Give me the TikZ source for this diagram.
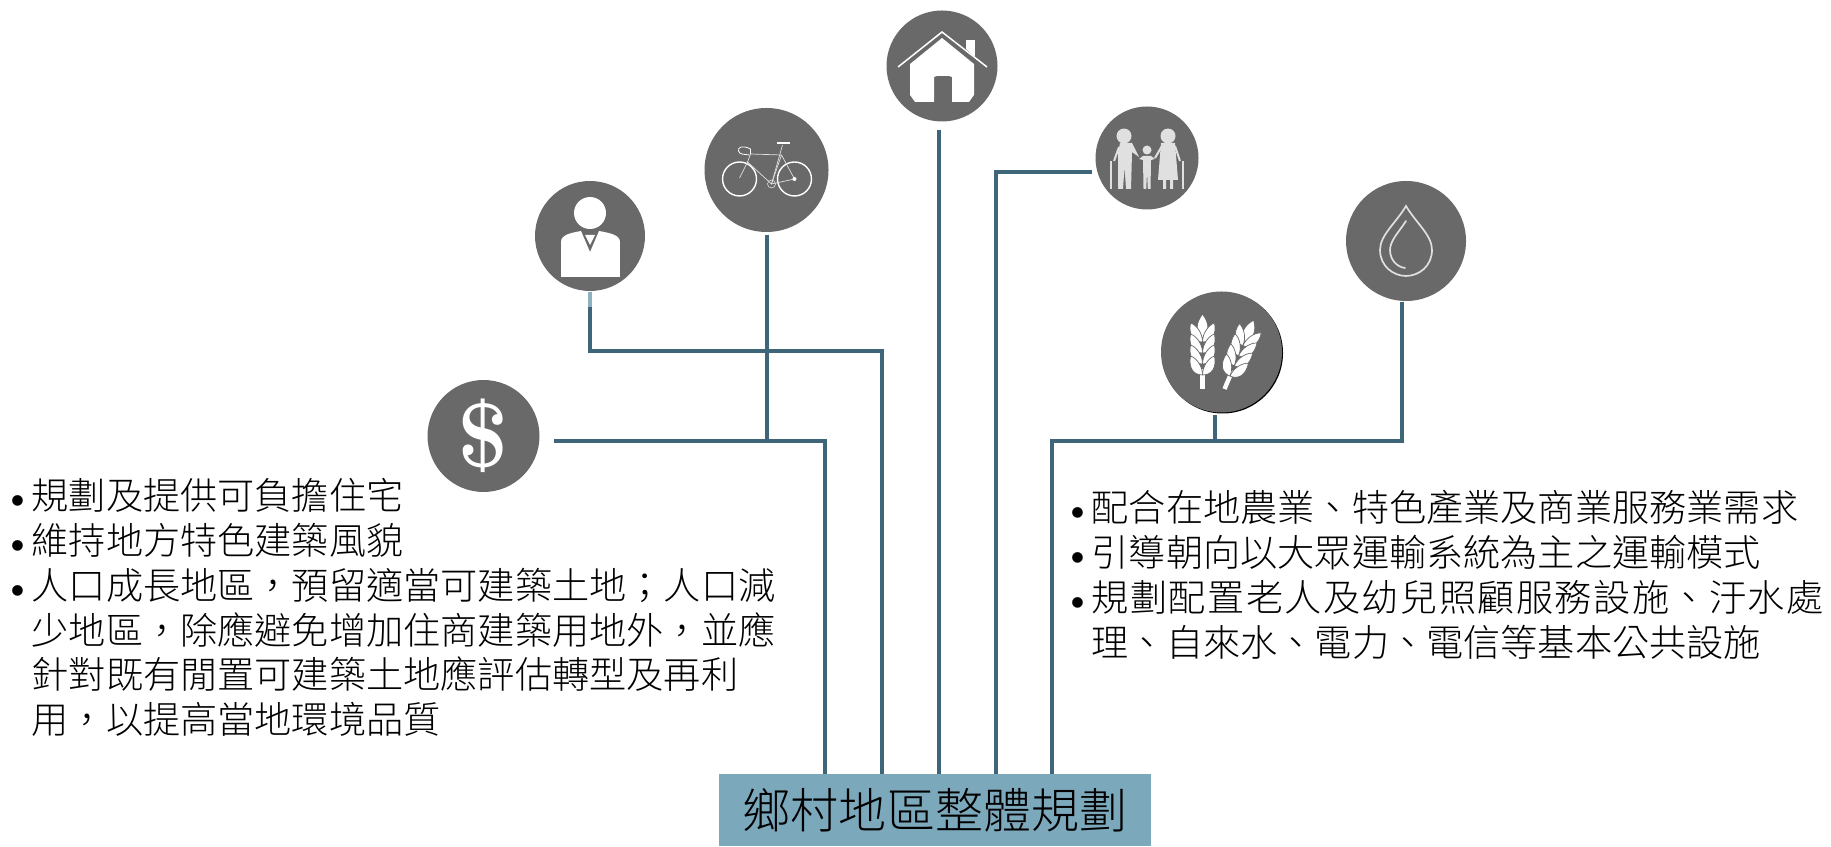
\documentclass[tikz,border=0pt]{standalone}
\usepackage{fontspec}
\usepackage{tikz}
\usetikzlibrary{calc}
\newfontfamily\cjk{Noto Sans CJK TC Light}
\newfontfamily\cjkwide[LetterSpace=3.8]{Noto Sans CJK TC Light}
\definecolor{linkblue}{RGB}{62,101,120}
\definecolor{linkpale}{RGB}{143,176,190}
\definecolor{hubblue}{RGB}{124,168,188}
\definecolor{badgegray}{RGB}{105,105,105}
\definecolor{iconpale}{RGB}{224,224,224}
\newcommand{\blt}{\llap{{\normalfont\textbullet}\hspace{-0.1pt}}}

\begin{document}
\begin{tikzpicture}[
    badge/.style={circle, fill=badgegray, inner sep=0pt},
    hub/.style={rectangle, fill=hubblue, minimum width=4.32cm, minimum height=0.72cm, inner sep=0pt, font=\cjk\fontsize{13.66}{16}\selectfont},
    list/.style={anchor=west, align=left, inner sep=0pt, font=\cjk\fontsize{10.58}{12.76}\selectfont},
    link/.style={line width=0.04cm, linkblue},
    icon/.style={x=0.01cm, y=-0.01cm},
    wheatear/.pic={
        \fill[white] (-2.2,0) rectangle (2.2,-20);
        \fill[white] (0,-52) .. controls (-7,-58) and (-6,-66) .. (0,-74) .. controls (6,-66) and (7,-58) .. (0,-52);
        \foreach \k in {47,36,25,14} {
            \filldraw[white, draw=badgegray, line width=0.007cm] (0,-\k) .. controls (-10,-\k) and (-14,-\k-8) .. (-12,-\k-19) .. controls (-6,-\k-17) and (0,-\k-9) .. (0,-\k);
            \filldraw[white, draw=badgegray, line width=0.007cm] (0,-\k) .. controls (10,-\k) and (14,-\k-8) .. (12,-\k-19) .. controls (6,-\k-17) and (0,-\k-9) .. (0,-\k);
        }
    }
]
\useasboundingbox (0,0) rectangle (18.31,8.46);

% Dark rim seen under the wheat badge
\fill[black] (12.225,4.93) circle (0.605);

% Central title
\node[hub] (title) at (9.35,0.36) {鄉村地區整體規劃};

% Badges
\node[badge, minimum size=1.12cm, text=white, font=\normalfont\bfseries\fontsize{26}{28}\selectfont] (dollar) at (4.835,4.10) {\$};
\node[badge, minimum size=1.10cm] (person) at (5.90,6.10) {};
\node[badge, minimum size=1.24cm] (bike) at (7.665,6.76) {};
\node[badge, minimum size=1.11cm] (house) at (9.42,7.80) {};
\node[badge, minimum size=1.03cm] (family) at (11.47,6.88) {};
\node[badge, minimum size=1.21cm] (wheat) at (12.215,4.94) {};
\node[badge, minimum size=1.20cm] (water) at (14.06,6.05) {};

% Where the trunks meet the title and the free ends
\coordinate (footA) at (8.245,0.72);
\coordinate (footB) at (8.815,0.72);
\coordinate (footC) at (9.385,0.72);
\coordinate (footD) at (9.96,0.72);
\coordinate (footE) at (10.52,0.72);
\coordinate (dollarend) at (5.54,4.05);
\coordinate (familyend) at (10.92,6.74);
\coordinate (wheatjoin) at (12.145,4.05);

% Left trunks
\draw[link] (dollarend) -| (footA);
\draw[link] (person.south) -- ++(0,-0.59) -| (footB);
\draw[link, shorten <=0.02cm] (bike.south) -- (bike.south |- dollarend);
\draw[line width=0.04cm, linkpale] (person.south) -- ++(0,-0.15);

% Middle and right trunks
\draw[link, shorten <=0.08cm] (footC |- house.south) -- (footC);
\draw[link] (familyend) -| (footD);
\draw[link] (footE) -- ++(0,3.33) -| ([xshift=-0.04cm]water.south);
\draw[link, shorten <=0.02cm] (wheatjoin |- wheat.south) -- (wheatjoin);

% Person icon
\begin{scope}[shift={(person)}, icon]
\fill[white] (0,-23) circle (16);
\fill[white] (-29,41) -- (-29,6) .. controls (-29,-1) and (-20,-3) .. (-9,-5) -- (0,16) -- (9,-5) .. controls (20,-3) and (30,-1) .. (30,6) -- (30,41) -- cycle;
\fill[white] (-5,-1) -- (5,-1) -- (0,9) -- cycle;
\end{scope}

% Bike icon
\begin{scope}[shift={(bike)}, icon]
\draw[white, line width=0.014cm] (-27,9) circle (17) (28,9) circle (17);
\draw[iconpale, line width=0.007cm] (-19,-8) -- (5,14) -- (15,-15) -- (-16,-16) -- (-19,-8) -- (-27,8);
\draw[iconpale, line width=0.007cm] (16,-25) -- (5,14) -- (28,9) -- (15,-15);
\draw[iconpale, line width=0.006cm] (5,14) circle (4);
\draw[white, line width=0.012cm] (10,-27) -- (23,-27);
\draw[white, line width=0.008cm] (-16,-16) -- (-16,-21) .. controls (-24,-25) and (-29,-23) .. (-28,-19) .. controls (-27,-15) and (-22,-16) .. (-17,-15);
\fill[white] (28,9) circle (2);
\end{scope}

% House icon
\begin{scope}[shift={(house)}, icon]
\fill[white] (-32,-2) -- (0,-28) -- (32,-2) -- (32,29) -- (27,36) -- (10,36) -- (10,11) -- (7,10) -- (-5,10) -- (-8,11) -- (-8,36) -- (-27,36) -- (-32,29) -- cycle;
\fill[white] (24,-26) -- (33,-26) -- (33,-9) -- (24,-17) -- cycle;
\draw[white, line width=0.015cm] (-44,1) -- (0,-34) -- (45,1);
\end{scope}

% Family icon
\begin{scope}[shift={(family)}, icon]
\fill[iconpale] (-23,-22) circle (7.5) (21,-22) circle (7.5) (0,-8) circle (4.5);
\fill[iconpale] (-27,-15) -- (-15,-15) -- (-8,-1) -- (-15,-6) -- (-16,31) -- (-21,31) -- (-22.5,9) -- (-24,31) -- (-29,31) -- (-29,-5) -- cycle;
\draw[iconpale, line width=0.02cm] (-28,-11) -- (-33,3);
\draw[iconpale, line width=0.012cm] (-36,3) -- (-36,31);
\fill[iconpale] (-4,-2) -- (4,-2) -- (8,1) -- (4,2) -- (3.5,31) -- (0.8,31) -- (0,14) -- (-0.8,31) -- (-3.5,31) -- (-4,2) -- (-8,1) -- cycle;
\fill[iconpale] (14,-15) -- (28,-15) -- (31,22) -- (26,22) -- (26,31) -- (23,31) -- (23,22) -- (19,22) -- (19,31) -- (16,31) -- (16,22) -- (11,22) -- cycle;
\draw[iconpale, line width=0.02cm] (15,-12) -- (8,0) (28,-12) -- (33,3);
\draw[iconpale, line width=0.012cm] (36,3) -- (36,31);
\end{scope}

% Wheat icon
\begin{scope}[shift={(wheat)}, icon]
\pic at (-19,37) {wheatear};
\pic[rotate=-23] at (3,37) {wheatear};
\end{scope}

% Water icon
\begin{scope}[shift={(water)}, icon]
\draw[iconpale, line width=0.017cm] (0,-35) .. controls (-10,-18) and (-26,-6) .. (-26,9) .. controls (-26,25) and (-13,35) .. (0,35) .. controls (13,35) and (26,25) .. (26,9) .. controls (26,-6) and (10,-18) .. (0,-35) -- cycle;
\draw[iconpale, line width=0.017cm, line cap=round] (0,-20) .. controls (-8,-8) and (-16,0) .. (-16,9) .. controls (-16,19) and (-9,26) .. (-1,27);
\end{scope}

% Left list
\node[list] (leftlist) at (0.31,2.385) {\blt 規劃及提供可負擔住宅\\
\blt 維持地方特色建築風貌\\
\blt 人口成長地區^^^^ff0c預留適當可建築土地^^^^ff1b人口減\\
少地區^^^^ff0c除應避免增加住商建築用地外^^^^ff0c並應\\
針對既有閒置可建築土地應評估轉型及再利\\
用^^^^ff0c以提高當地環境品質};

% Right list
\node[list] (rightlist) at (10.91,2.71) {\blt 配合在地農業、特色產業及商業服務業需求\\
\blt 引導朝向以大眾運輸系統為主之運輸模式\\
\blt {\cjkwide 規劃配置老人及幼兒照顧服務設施、汙水處}\\
理、自來水、電力、電信等基本公共設施};

\end{tikzpicture}
\end{document}
